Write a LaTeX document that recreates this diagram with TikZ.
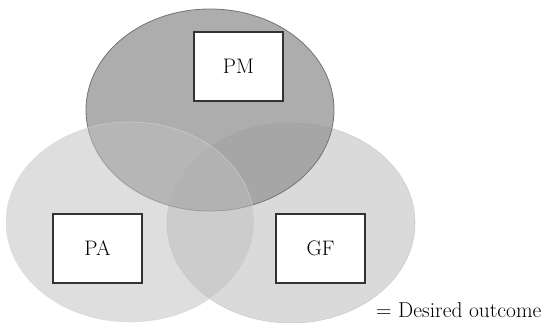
\documentclass[tikz,border=0pt]{standalone}
\usepackage{tikz}

\tikzset{
  factor/.style={draw=black!80, line width=1.1pt, fill=white, minimum width=89pt,
    minimum height=69pt, inner sep=0pt, font=\fontsize{21}{24}\selectfont},
}

\begin{document}
\begin{tikzpicture}[x=1pt, y=-1pt]
\useasboundingbox (0,0) rectangle (545,322);
\coordinate (cM) at (210,110);
        \coordinate (cA) at (130,222);
        \coordinate (cF) at (291,223);

% the three areas
\fill[black!48, fill opacity=0.3] (cF) ellipse [x radius=124, y radius=100];
\draw[black!20, line width=0.6pt] (cF) ellipse [x radius=124, y radius=100];
\fill[black!40, fill opacity=0.8] (cM) ellipse [x radius=124, y radius=101];
\draw[black!55, line width=0.8pt] (cM) ellipse [x radius=124, y radius=101];
\fill[black!25, fill opacity=0.52] (cA) ellipse [x radius=124, y radius=100];
\draw[black!15, line width=0.6pt, opacity=0.6] (cA) ellipse [x radius=124, y radius=100];

\node[factor] (pm) at (238.5,66.5) {PM};
\node[factor] (pa) at (97.5,248.5) {PA};
\node[factor] (gf) at (320.5,248.5) {GF};

\node[anchor=base west, inner sep=0pt, font=\fontsize{21.5}{24}\selectfont] (outcome) at (376,317) {= Desired outcome};
\end{tikzpicture}
\end{document}
